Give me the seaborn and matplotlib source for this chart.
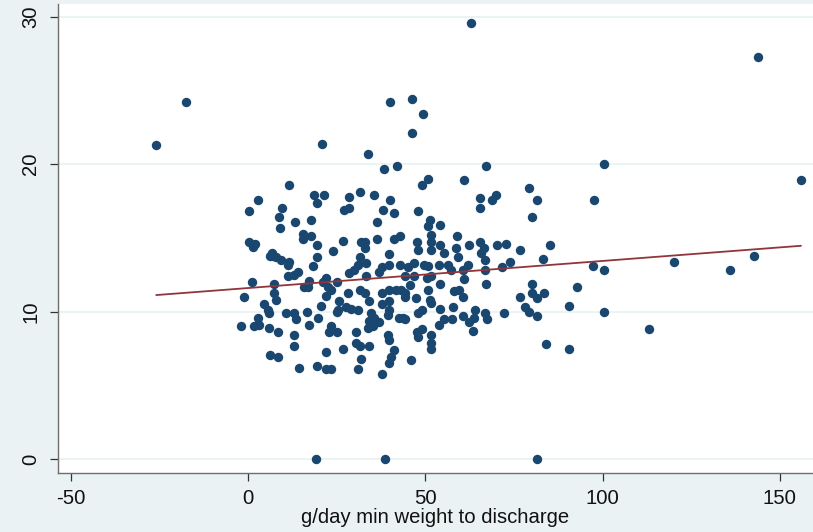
import matplotlib
matplotlib.use('Agg')
import matplotlib.pyplot as plt
import seaborn as sns
import pandas as pd

# values, grouped by region of the cloud
upper_x = [20.9, 33.9, 38.4, 42.1, 11.6, 2.8, 0.3, 18.6, 21.5, 19.5, 28.5, 31.6, 35.6, 40.1,
           27.1, 28.5, 37.9, 41.2, 9.6, 8.8, 9.0, 13.3, 17.8, 36.2, 15.5, 17.8, 15.5, 19.5,
           26.8, 36.4, 41.0, 42.9, 0.3, 2.0, 1.4, 31.9, 33.0, 32.8, 24.0, 6.8, 39.8]
upper_y = [21.4, 20.7, 19.7, 19.9, 18.6, 17.6, 16.8, 17.9, 17.9, 17.4, 17.8, 18.1, 17.9, 17.6,
           16.9, 17.0, 16.9, 16.7, 17.0, 16.4, 15.7, 16.1, 16.2, 16.1, 15.3, 15.1, 14.9, 14.5,
           14.8, 14.9, 14.9, 15.1, 14.7, 14.6, 14.4, 14.7, 14.7, 14.3, 14.1, 14.0, 13.9]

upper_right_x = [46.3, 67.0, 50.6, 48.9, 61.0, 79.1, 65.3, 65.5, 69.8, 68.9, 81.6, 80.2, 48.0,
                 51.4, 54.0, 50.6, 51.7, 59.0, 47.7, 51.7, 54.2, 58.5, 62.4, 65.3, 66.4, 70.1,
                 72.6, 76.6, 85.3, 48.0, 51.7, 55.1]
upper_right_y = [22.1, 19.9, 19.0, 18.6, 18.9, 18.4, 17.7, 17.0, 17.9, 17.6, 17.6, 16.4, 16.8,
                 16.2, 15.9, 15.8, 15.2, 15.1, 14.7, 14.7, 14.5, 14.3, 14.5, 14.7, 14.3, 14.5,
                 14.6, 14.2, 14.5, 14.2, 14.2, 14.0]

lower_x = [7.1, 6.0, 7.7, 9.3, 11.6, 11.3, 19.5, 18.4, 31.4, 33.3, 31.1, 29.7, 28.5, 37.6,
           39.8, 42.7, 37.0, 14.1, 13.0, 11.3, 22.0, 17.2, 21.2, 24.9, 33.3, 1.1, 7.3, 15.8,
           16.9, 22.6, 23.4, 28.2, 31.4, 32.8, 37.6, 39.8, 41.8, 43.2, 7.3, 7.9, -1.1, 22.0,
           25.7, 34.2, 39.8, 37.6, 4.5, 20.6, 25.4, 24.9, 27.7, 29.1, 31.1, 5.6, 5.9, 10.7,
           13.0, 13.6, 16.7, 19.8, 34.7, 35.6, 34.2, 37.0, 39.8, 39.5, 42.4, 43.8, 2.8, -2.0,
           1.7, 3.1, 5.9, 8.5, 17.2, 23.4, 22.9, 24.9, 30.5, 35.3, 33.9, 39.5, 39.8, 13.0,
           13.0, 30.5, 31.4, 34.2, 41.0, 40.4, 39.8, 21.8, 26.6, 6.2, 8.5, 31.9, 14.4, 19.5,
           22.0, 23.2, 31.1, 37.6]
lower_y = [13.8, 13.8, 13.7, 13.5, 13.4, 13.2, 13.7, 13.1, 13.7, 13.3, 13.2, 12.8, 12.6, 13.0,
           13.2, 13.2, 12.7, 12.7, 12.5, 12.4, 12.3, 12.1, 12.0, 12.0, 12.4, 12.0, 11.9, 11.7,
           11.7, 11.7, 11.5, 11.3, 11.5, 11.3, 11.3, 11.5, 11.5, 11.5, 11.3, 10.8, 11.0, 11.1,
           10.7, 10.7, 10.7, 10.5, 10.5, 10.4, 10.1, 10.0, 10.3, 10.2, 10.1, 10.1, 9.9, 9.9,
           9.9, 9.5, 10.0, 9.6, 9.9, 9.6, 9.4, 9.3, 10.1, 9.8, 9.6, 9.6, 9.6, 9.0,
           9.0, 9.1, 8.9, 8.6, 9.1, 9.0, 8.6, 8.6, 8.6, 9.0, 8.9, 8.4, 8.1, 8.4,
           7.7, 7.9, 7.7, 7.7, 7.4, 6.9, 6.5, 7.3, 7.5, 7.1, 6.9, 6.8, 6.2, 6.3,
           6.1, 6.1, 6.1, 5.8]

lower_right_x = [59.3, 65.8, 66.7, 83.3, 46.9, 45.2, 49.7, 50.8, 53.7, 56.5, 57.3, 62.1, 60.7,
                 66.7, 71.5, 74.0, 44.1, 46.9, 50.3, 51.7, 54.0, 61.0, 67.2, 45.5, 44.1, 50.8,
                 44.1, 47.2, 58.2, 59.6, 60.7, 51.4, 51.7, 80.2, 80.2, 83.6, 76.6, 81.6, 92.7,
                 54.2, 57.9, 48.9, 48.0, 78.0, 79.1, 81.6, 72.3, 90.4, 44.1, 55.1, 57.6, 53.7,
                 60.7, 62.4, 64.1, 63.8, 66.7, 67.5, 63.3, 48.9, 47.5, 48.0, 51.7, 51.7, 51.7,
                 45.8, 83.9, 90.4]
lower_right_y = [13.7, 14.0, 13.5, 13.6, 13.3, 13.0, 13.2, 13.1, 13.2, 13.2, 12.8, 13.2, 12.8,
                 12.8, 13.0, 13.4, 12.4, 12.4, 12.3, 12.4, 11.9, 12.2, 11.9, 11.8, 11.3, 11.5,
                 11.0, 10.9, 11.4, 11.5, 11.0, 10.8, 10.6, 11.9, 11.3, 11.3, 11.0, 10.9, 11.7,
                 10.2, 10.3, 10.1, 9.9, 10.3, 10.0, 9.7, 9.9, 10.4, 9.5, 9.5, 9.5, 9.1,
                 9.7, 9.3, 10.1, 9.6, 9.9, 9.5, 8.7, 8.8, 8.6, 8.3, 8.4, 7.9, 7.5,
                 6.7, 7.8, 7.5]

outlier_x = [-26.0, -17.5, 63.0, 144.0, 40.1, 46.3, 49.2, 100.3, 97.5, 156.0, 120.3, 136.0,
             142.7, 97.2, 100.3, 100.3, 113.0, 19.2, 38.7, 81.4]
outlier_y = [21.3, 24.2, 29.6, 27.3, 24.2, 24.4, 23.4, 20.0, 17.6, 18.9, 13.4, 12.8,
             13.8, 13.1, 12.8, 10.0, 8.8, 0.0, 0.0, 0.0]

# fitted line as drawn in the reference (ends of the lfit line)
fit_x = [-26.0, 156.0]
fit_y = [11.13, 14.47]

x_ticks = [-50, 0, 50, 100, 150]
y_ticks = [0, 10, 20, 30]

df = pd.DataFrame({
    'x': upper_x + upper_right_x + lower_x + lower_right_x + outlier_x,
    'y': upper_y + upper_right_y + lower_y + lower_right_y + outlier_y,
})

sns.set_theme(style='white')
plt.rcParams['font.family'] = ['Liberation Sans', 'DejaVu Sans']
plt.rcParams['axes.unicode_minus'] = False

bg = '#eaf2f3'
fig = plt.figure(figsize=(8.13, 5.32), dpi=100, facecolor=bg)
ax = fig.add_axes([0.071, 0.1115, 0.929, 0.881])
ax.set_facecolor('white')

for t in y_ticks:
    ax.axhline(t, color=bg, lw=1.3, zorder=0)

sns.scatterplot(data=df, x='x', y='y', color='#1a476f', s=46, linewidth=0, ax=ax, zorder=3)
sns.lineplot(x=fit_x, y=fit_y, color='#90353b', lw=1.3, ax=ax, zorder=4)

ax.set_xlim(-53.8, 159.4)
ax.set_ylim(-0.91, 30.86)
ax.set_xticks(x_ticks)
ax.set_yticks(y_ticks)
ax.set_xlabel('g/day min weight to discharge', fontsize=14.6, labelpad=0, color='#111111')
ax.set_ylabel('')

for s in ['top', 'right']:
    ax.spines[s].set_visible(False)
for s in ['left', 'bottom']:
    ax.spines[s].set_color('#6f6f6f')
    ax.spines[s].set_linewidth(1.0)

ax.tick_params(axis='both', direction='out', length=6, width=0.9, color='#333333',
               labelsize=14.6, labelcolor='#111111', left=True, bottom=True)
ax.tick_params(axis='x', pad=5.5)
ax.tick_params(axis='y', pad=6.5, labelrotation=90)
for lab in ax.get_yticklabels():
    lab.set_va('center')

fig.savefig('out.png', dpi=100, facecolor=bg)
